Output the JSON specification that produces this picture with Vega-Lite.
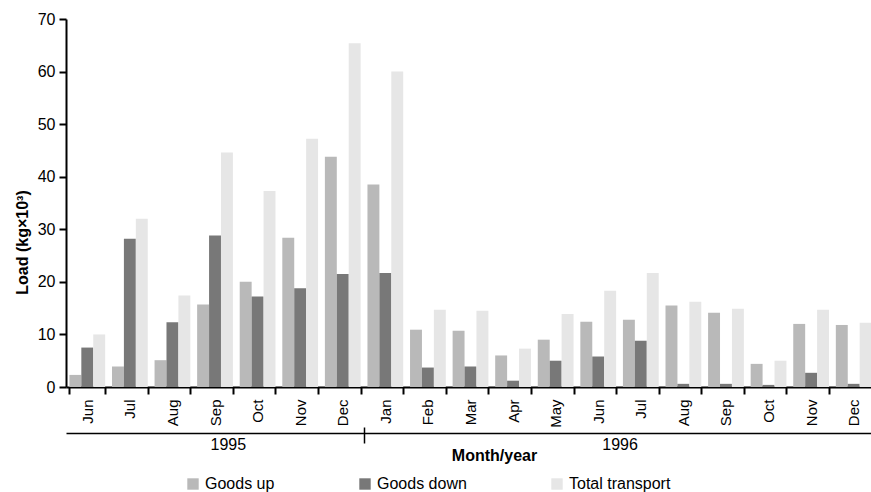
{
  "$schema": "https://vega.github.io/schema/vega-lite/v6.json",
  "width": 809,
  "height": 368,
  "autosize": {"type": "none"},
  "padding": {"left": 66, "top": 19, "right": -4, "bottom": 105},
  "background": "white",
  "config": {
    "font": "Liberation Sans",
    "view": {"stroke": null},
    "axis": {"labelColor": "#000", "titleColor": "#000", "domainColor": "#000", "tickColor": "#000", "grid": false}
  },
  "datasets": {
    "loads": [
      {"period": "Jun 1995", "series": "Goods up", "value": 2.3},
      {"period": "Jun 1995", "series": "Goods down", "value": 7.5},
      {"period": "Jun 1995", "series": "Total transport", "value": 10.0},
      {"period": "Jul 1995", "series": "Goods up", "value": 3.9},
      {"period": "Jul 1995", "series": "Goods down", "value": 28.2},
      {"period": "Jul 1995", "series": "Total transport", "value": 32.0},
      {"period": "Aug 1995", "series": "Goods up", "value": 5.1},
      {"period": "Aug 1995", "series": "Goods down", "value": 12.3},
      {"period": "Aug 1995", "series": "Total transport", "value": 17.4},
      {"period": "Sep 1995", "series": "Goods up", "value": 15.7},
      {"period": "Sep 1995", "series": "Goods down", "value": 28.8},
      {"period": "Sep 1995", "series": "Total transport", "value": 44.6},
      {"period": "Oct 1995", "series": "Goods up", "value": 20.0},
      {"period": "Oct 1995", "series": "Goods down", "value": 17.2},
      {"period": "Oct 1995", "series": "Total transport", "value": 37.3},
      {"period": "Nov 1995", "series": "Goods up", "value": 28.4},
      {"period": "Nov 1995", "series": "Goods down", "value": 18.8},
      {"period": "Nov 1995", "series": "Total transport", "value": 47.2},
      {"period": "Dec 1995", "series": "Goods up", "value": 43.8},
      {"period": "Dec 1995", "series": "Goods down", "value": 21.5},
      {"period": "Dec 1995", "series": "Total transport", "value": 65.4},
      {"period": "Jan 1996", "series": "Goods up", "value": 38.5},
      {"period": "Jan 1996", "series": "Goods down", "value": 21.7},
      {"period": "Jan 1996", "series": "Total transport", "value": 60.0},
      {"period": "Feb 1996", "series": "Goods up", "value": 10.9},
      {"period": "Feb 1996", "series": "Goods down", "value": 3.7},
      {"period": "Feb 1996", "series": "Total transport", "value": 14.7},
      {"period": "Mar 1996", "series": "Goods up", "value": 10.7},
      {"period": "Mar 1996", "series": "Goods down", "value": 3.9},
      {"period": "Mar 1996", "series": "Total transport", "value": 14.5},
      {"period": "Apr 1996", "series": "Goods up", "value": 6.0},
      {"period": "Apr 1996", "series": "Goods down", "value": 1.2},
      {"period": "Apr 1996", "series": "Total transport", "value": 7.3},
      {"period": "May 1996", "series": "Goods up", "value": 9.0},
      {"period": "May 1996", "series": "Goods down", "value": 5.0},
      {"period": "May 1996", "series": "Total transport", "value": 13.9},
      {"period": "Jun 1996", "series": "Goods up", "value": 12.4},
      {"period": "Jun 1996", "series": "Goods down", "value": 5.8},
      {"period": "Jun 1996", "series": "Total transport", "value": 18.3},
      {"period": "Jul 1996", "series": "Goods up", "value": 12.8},
      {"period": "Jul 1996", "series": "Goods down", "value": 8.8},
      {"period": "Jul 1996", "series": "Total transport", "value": 21.7},
      {"period": "Aug 1996", "series": "Goods up", "value": 15.5},
      {"period": "Aug 1996", "series": "Goods down", "value": 0.6},
      {"period": "Aug 1996", "series": "Total transport", "value": 16.2},
      {"period": "Sep 1996", "series": "Goods up", "value": 14.1},
      {"period": "Sep 1996", "series": "Goods down", "value": 0.6},
      {"period": "Sep 1996", "series": "Total transport", "value": 14.9},
      {"period": "Oct 1996", "series": "Goods up", "value": 4.4},
      {"period": "Oct 1996", "series": "Goods down", "value": 0.4},
      {"period": "Oct 1996", "series": "Total transport", "value": 5.0},
      {"period": "Nov 1996", "series": "Goods up", "value": 12.0},
      {"period": "Nov 1996", "series": "Goods down", "value": 2.7},
      {"period": "Nov 1996", "series": "Total transport", "value": 14.7},
      {"period": "Dec 1996", "series": "Goods up", "value": 11.8},
      {"period": "Dec 1996", "series": "Goods down", "value": 0.6},
      {"period": "Dec 1996", "series": "Total transport", "value": 12.2}
    ],
    "years": [
      {"year": "1995", "from": 0, "to": 7},
      {"year": "1996", "from": 7, "to": 19}
    ]
  },
  "layer": [
    {
      "data": {"name": "loads"},
      "mark": {"type": "bar"},
      "encoding": {
        "x": {
          "field": "period", "type": "nominal", "sort": null,
          "scale": {"paddingInner": 0.16, "paddingOuter": 0.08},
          "axis": {
            "orient": "bottom",
            "title": null,
            "labelExpr": "split(datum.label, ' ')[0]",
            "labelAngle": -90,
            "labelFontSize": 15,
            "labelPadding": 5,
            "tickBand": "extent",
            "tickSize": 7,
            "tickWidth": 2,
            "domainWidth": 2
          }
        },
        "xOffset": {
          "field": "series", "type": "nominal",
          "sort": ["Goods up", "Goods down", "Total transport"],
          "scale": {"paddingInner": 0, "paddingOuter": 0}
        },
        "y": {
          "field": "value", "type": "quantitative",
          "scale": {"domain": [0, 70], "nice": false},
          "axis": {
            "values": [0, 10, 20, 30, 40, 50, 60, 70],
            "title": "Load (kg×10³)",
            "titleFontWeight": "bold",
            "titleFontSize": 16,
            "titleAngle": -90,
            "titleAlign": "center",
            "titleBaseline": "alphabetic",
            "titleX": -39,
            "titleY": 223,
            "labelFontSize": 16,
            "labelPadding": 4,
            "tickSize": 7,
            "tickWidth": 2,
            "domainWidth": 2
          }
        },
        "color": {
          "field": "series", "type": "nominal",
          "scale": {
            "domain": ["Goods up", "Goods down", "Total transport"],
            "range": ["#b9b9b9", "#787878", "#e6e6e6"]
          },
          "legend": {
            "orient": "none",
            "legendX": 119,
            "legendY": 457,
            "direction": "horizontal",
            "title": null,
            "symbolType": "square",
            "symbolSize": 130,
            "symbolStrokeWidth": 0,
            "labelFontSize": 16,
            "labelColor": "#000",
            "labelOffset": 4,
            "columnPadding": 82
          }
        }
      }
    },
    {
      "data": {"name": "years"},
      "mark": {"type": "rule", "opacity": 0},
      "encoding": {
        "x": {
          "field": "from", "type": "quantitative",
          "scale": {"domain": [0, 19], "nice": false, "zero": false},
          "axis": {
            "orient": "bottom",
            "offset": 40,
            "values": [7],
            "labels": false,
            "domain": false,
            "tickSize": 16,
            "tickWidth": 1.5,
            "title": null
          }
        },
        "x2": {"field": "to"}
      }
    },
    {
      "data": {"name": "years"},
      "mark": {"type": "rule", "opacity": 0},
      "encoding": {
        "x": {
          "field": "from", "type": "quantitative",
          "scale": {"domain": [0, 19], "nice": false, "zero": false},
          "axis": {
            "orient": "bottom",
            "offset": 46,
            "values": [3.8, 13],
            "labelExpr": "datum.value < 7 ? '1995' : '1996'",
            "ticks": false,
            "tickSize": 0,
            "domain": true,
            "domainWidth": 1.5,
            "labelFontSize": 16,
            "labelPadding": 3,
            "labelFlush": false,
            "labelOverlap": false,
            "title": "Month/year",
            "titleFontWeight": "bold",
            "titleFontSize": 16,
            "titleX": 428,
            "titleY": 27,
            "titleBaseline": "alphabetic"
          }
        },
        "x2": {"field": "to"}
      }
    }
  ],
  "resolve": {"scale": {"x": "independent"}, "axis": {"x": "independent"}}
}
